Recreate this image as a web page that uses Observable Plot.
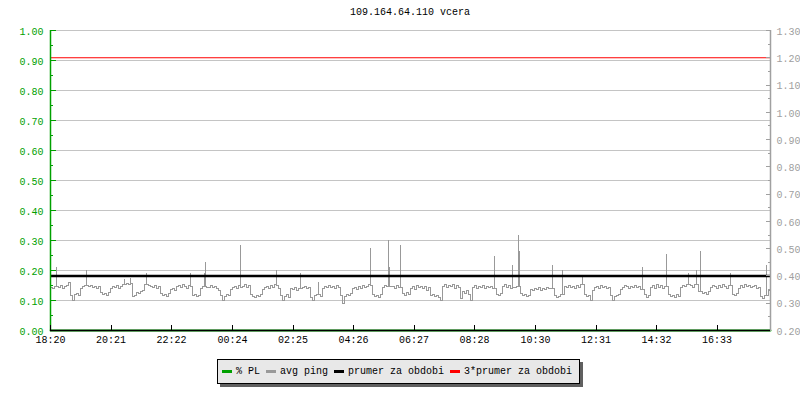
<!DOCTYPE html>
<html>
<head>
<meta charset="utf-8">
<script src="https://cdn.jsdelivr.net/npm/d3@7"></script>
<script src="https://cdn.jsdelivr.net/npm/@observablehq/plot@0.6"></script>
<style>
  body { margin: 0; background: #fff; }
  #wrap { position: relative; width: 800px; height: 400px; font-family: "Liberation Mono", "DejaVu Sans Mono", monospace; font-size: 10px; color: #000; }
  #title { position: absolute; left: 50px; width: 720px; top: 7px; text-align: center; line-height: 12px; }
  #legend { position: absolute; left: 217px; top: 359px; height: 23px; box-sizing: content-box; border: 1px solid #000; background: #e8e8e8; box-shadow: 3px 3px 0 #606060; display: flex; align-items: center; padding: 0 7px 0 4px; line-height: 12px; white-space: pre; }
  .it { display: flex; align-items: center; margin-right: 6px; }
  .it:last-child { margin-right: 0; }
  .sw { display: inline-block; width: 10px; height: 3px; margin-right: 4px; }
</style>
</head>
<body>
<div id="wrap"><div id="title"></div><div id="legend"></div></div>
<script>
// ---- data ----
const chartTitle = "109.164.64.110 vcera";
const xTickLabels = ["18:20","20:21","22:22","00:24","02:25","04:26","06:27","08:28","10:30","12:31","14:32","16:33"];
const spanMinutes = 1440;           // one day shown
const pingStepMinutes = 4;          // sample spacing of the ping series
const leftTicks = [0.00,0.10,0.20,0.30,0.40,0.50,0.60,0.70,0.80,0.90,1.00];
const leftMinorTicks = [0.05,0.15,0.25,0.35,0.45,0.55,0.65,0.75,0.85,0.95];
const rightTicks = [0.20,0.30,0.40,0.50,0.60,0.70,0.80,0.90,1.00,1.10,1.20,1.30];
const rightMinorTicks = [0.25,0.35,0.45,0.55,0.65,0.75,0.85,0.95,1.05,1.15,1.25];
const plValues = [0, 0];            // % packet loss (none)
const avgPing = 0.40;               // prumer za obdobi
const legendLabels = ["% PL", "avg ping", "prumer za obdobi", "3*prumer za obdobi"];
// avg ping, one value every 4 minutes from 18:20
const pingValues = [
0.358,0.354,0.361,0.361,0.358,0.365,0.354,0.361,0.365,0.376,
0.328,0.310,0.332,0.336,0.328,0.354,0.361,0.365,0.365,0.361,
0.365,0.358,0.361,0.354,0.361,0.339,0.332,0.336,0.328,0.339,
0.354,0.361,0.358,0.365,0.354,0.361,0.369,0.369,0.372,0.369,
0.372,0.325,0.328,0.339,0.336,0.343,0.347,0.369,0.369,0.365,
0.361,0.358,0.365,0.354,0.361,0.336,0.328,0.332,0.325,0.336,
0.350,0.354,0.347,0.361,0.365,0.358,0.369,0.361,0.354,0.365,
0.361,0.328,0.332,0.325,0.328,0.354,0.361,0.361,0.358,0.358,
0.365,0.358,0.361,0.354,0.347,0.328,0.310,0.325,0.332,0.328,
0.350,0.358,0.361,0.354,0.365,0.358,0.361,0.369,0.358,0.365,
0.332,0.325,0.321,0.328,0.325,0.332,0.350,0.358,0.361,0.354,
0.365,0.358,0.369,0.365,0.354,0.328,0.310,0.325,0.332,0.321,
0.354,0.350,0.358,0.347,0.354,0.354,0.358,0.361,0.354,0.358,
0.321,0.310,0.328,0.332,0.332,0.325,0.354,0.361,0.358,0.365,
0.358,0.361,0.354,0.365,0.358,0.328,0.299,0.325,0.332,0.328,
0.336,0.354,0.358,0.350,0.361,0.354,0.365,0.358,0.361,0.369,
0.365,0.332,0.325,0.328,0.321,0.332,0.358,0.365,0.361,0.361,
0.361,0.361,0.354,0.365,0.358,0.358,0.336,0.328,0.339,0.332,
0.354,0.361,0.350,0.365,0.358,0.361,0.354,0.361,0.347,0.358,
0.328,0.332,0.325,0.328,0.321,0.310,0.361,0.369,0.358,0.365,
0.361,0.369,0.354,0.365,0.358,0.317,0.343,0.336,0.347,0.332,
0.310,0.358,0.365,0.354,0.361,0.358,0.365,0.354,0.361,0.358,
0.361,0.354,0.354,0.332,0.328,0.336,0.361,0.369,0.358,0.365,
0.354,0.358,0.358,0.361,0.361,0.336,0.328,0.332,0.325,0.328,
0.350,0.347,0.354,0.350,0.358,0.347,0.354,0.350,0.358,0.354,
0.354,0.354,0.328,0.321,0.325,0.332,0.332,0.361,0.358,0.365,
0.358,0.361,0.354,0.365,0.358,0.369,0.369,0.332,0.325,0.328,
0.310,0.347,0.358,0.361,0.354,0.365,0.358,0.361,0.354,0.358,
0.328,0.310,0.325,0.328,0.332,0.350,0.358,0.365,0.361,0.354,
0.361,0.358,0.365,0.358,0.361,0.350,0.350,0.332,0.321,0.328,
0.358,0.365,0.354,0.369,0.358,0.365,0.354,0.361,0.361,0.332,
0.325,0.328,0.321,0.332,0.325,0.358,0.365,0.361,0.369,0.369,
0.365,0.358,0.369,0.369,0.343,0.343,0.336,0.339,0.332,0.343,
0.358,0.365,0.361,0.354,0.365,0.358,0.369,0.361,0.354,0.365,
0.365,0.332,0.328,0.336,0.354,0.365,0.358,0.369,0.361,0.365,
0.358,0.361,0.365,0.354,0.358,0.325,0.317,0.328,0.328,0.347,
0.347
];
// short ping spikes: minute offset from 18:20 and peak value
const spikeMinutes = [12,72,148,160,192,280,308,310,380,452,500,536,640,676,678,700,888,924,936,938,1004,1024,1064,1184,1232,1276,1292,1300,1360,1432];
const spikeValues  = [0.431,0.420,0.387,0.391,0.409,0.409,0.409,0.449,0.512,0.420,0.409,0.376,0.501,0.530,0.431,0.512,0.471,0.438,0.548,0.490,0.438,0.420,0.394,0.431,0.479,0.409,0.420,0.490,0.409,0.438];

// ---- derived tables ----
const GREEN = "#00a000", GREY = "#a0a0a0", PINGC = "#999999", GRID = "#c4c4c4";
const rMin = rightTicks[0], rMax = rightTicks[rightTicks.length - 1];
const toLeft = v => (v - rMin) / (rMax - rMin);   // right-axis value -> left scale
const toMin = s => { const [h, m] = s.split(":").map(Number); return h * 60 + m; };
const start = toMin(xTickLabels[0]);
const xTicks = xTickLabels.map(label => ({label, m: ((toMin(label) - start) % 1440 + 1440) % 1440}));
const ping = pingValues.map((v, i) => ({t: i * pingStepMinutes, v: toLeft(v)}));
const spikes = spikeMinutes.map((t, i) => ({t, base: toLeft(pingValues[Math.floor(t / pingStepMinutes)]), v: toLeft(spikeValues[i])}));
const pl = plValues.map((v, i) => ({t: i * spanMinutes, v}));

document.getElementById("title").textContent = chartTitle;
const legendColors = [GREEN, PINGC, "#000000", "#ff0000"];
const lg = document.getElementById("legend");
legendLabels.forEach((label, i) => {
  const it = document.createElement("span"); it.className = "it";
  const sw = document.createElement("span"); sw.className = "sw"; sw.style.background = legendColors[i];
  const tx = document.createElement("span"); tx.textContent = label;
  it.append(sw, tx); lg.append(it);
});

const crisp = {shapeRendering: "crispEdges"};
const chart = Plot.plot({
  width: 800, height: 400,
  marginLeft: 50, marginRight: 30, marginTop: 30, marginBottom: 70,
  x: {type: "linear", domain: [0, spanMinutes]},
  y: {domain: [0, 1]},
  style: {fontFamily: "Liberation Mono, DejaVu Sans Mono, monospace", fontSize: "10px", background: "#fff", overflow: "visible"},
  marks: [
    Plot.ruleY(leftTicks, {stroke: GRID, strokeWidth: 1, ...crisp}),
    Plot.line(pl, {x: "t", y: "v", stroke: GREEN, strokeWidth: 2}),
    Plot.line(ping, {x: "t", y: "v", curve: "step-after", stroke: PINGC, strokeWidth: 1, ...crisp}),
    Plot.ruleX(spikes, {x: "t", y1: "base", y2: "v", stroke: PINGC, strokeWidth: 1, ...crisp}),
    Plot.ruleY([toLeft(avgPing)], {stroke: "#000", strokeWidth: 2.4}),
    Plot.ruleY([toLeft(3 * avgPing)], {stroke: "#ff0000", strokeWidth: 1.2}),
    // left axis (green)
    Plot.ruleX([0], {stroke: GREEN, strokeWidth: 1.5}),
    Plot.axisY(leftTicks, {anchor: "left", tickSize: -6, fill: "none", stroke: GREEN, label: null, ...crisp}),
    Plot.axisY(leftMinorTicks, {anchor: "left", tickSize: -3, fill: "none", stroke: GREEN, label: null, ...crisp}),
    Plot.axisY(leftTicks, {anchor: "left", tickSize: 0, tickPadding: 7, tickFormat: d => d.toFixed(2), fill: GREEN, dy: 1, label: null}),
    // right axis (grey)
    Plot.ruleX([spanMinutes], {stroke: GREY, strokeWidth: 1.5}),
    Plot.axisY(rightTicks.map(toLeft), {anchor: "right", tickSize: -5, fill: "none", stroke: GREY, label: null, ...crisp}),
    Plot.axisY(rightMinorTicks.map(toLeft), {anchor: "right", tickSize: -3, fill: "none", stroke: GREY, label: null, ...crisp}),
    Plot.text(rightTicks, {y: toLeft, text: d => d.toFixed(2), frameAnchor: "right", textAnchor: "start", dx: 6, dy: 1, fill: GREY}),
    // x axis (black)
    Plot.ruleY([0], {stroke: "#000", strokeWidth: 1.5}),
    Plot.axisX(xTicks, {x: "m", anchor: "bottom", tickSize: -5, fill: "none", stroke: "#000", label: null, ...crisp}),
    Plot.axisX(xTicks, {x: "m", anchor: "bottom", tickSize: 0, tickPadding: 5, text: "label", fill: "#000", label: null})
  ]
});
document.getElementById("wrap").prepend(chart);
</script>
</body>
</html>
